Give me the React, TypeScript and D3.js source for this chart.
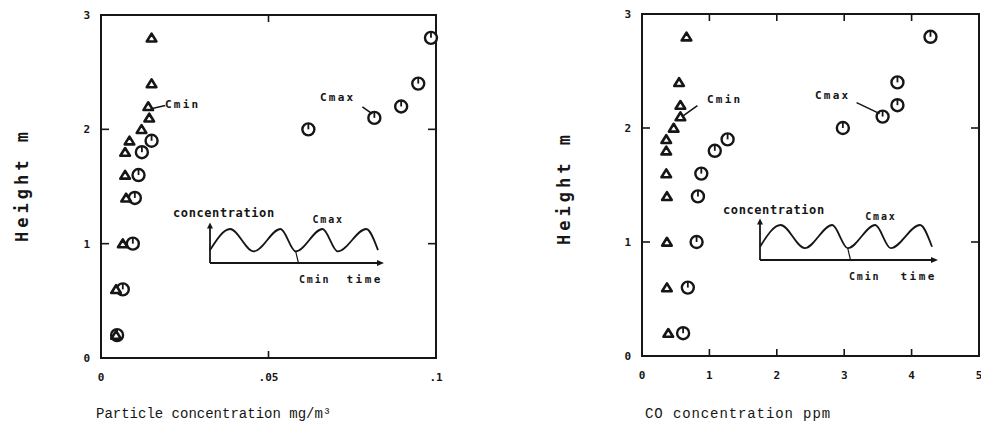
import React, { useEffect, useRef } from "react";
import * as d3 from "d3";

// heights (m) shared by both panels
const heights = [0.2, 0.6, 1.0, 1.4, 1.6, 1.8, 1.9, 2.0, 2.1, 2.2, 2.4, 2.8];
// particle concentration mg/m3
const particleCmin = [0.0045, 0.0045, 0.0065, 0.0075, 0.0072, 0.0072, 0.0085, 0.0121, 0.0144, 0.0141, 0.0151, 0.0151];
const particleCmax = [0.0048, 0.0065, 0.0095, 0.0101, 0.0112, 0.0122, 0.0151, 0.0619, 0.0816, 0.0896, 0.0947, 0.0985];
// CO concentration ppm
const coCmin = [0.39, 0.37, 0.37, 0.37, 0.36, 0.36, 0.36, 0.47, 0.57, 0.57, 0.55, 0.66];
const coCmax = [0.61, 0.68, 0.81, 0.83, 0.88, 1.08, 1.27, 2.98, 3.57, 3.79, 3.79, 4.28];

const heightTicks = [0, 1, 2, 3];
const particleTicks = [0, 0.05, 0.1];
const particleTickLabels = ["0", ".05", ".1"];
const coTicks = [0, 1, 2, 3, 4, 5];
const coTickLabels = ["0", "1", "2", "3", "4", "5"];

// schematic concentration vs time for the inset
const waveTime = [0, 1.2, 2.6, 4.2, 5.1, 6.7, 7.6, 9.3, 10];
const waveConc = [0.38, 1, 0.34, 1, 0.34, 1, 0.34, 1, 0.38];

const ink = "#161616";
const mono = "'DejaVu Sans Mono', monospace";

const panels = [
  {
    xMin: particleCmin, xMax: particleCmax, domain: [0, 0.1], ticks: particleTicks, labels: particleTickLabels,
    left: 101, right: 436, top: 15, bottom: 358,
    title: "Particle concentration mg/m\u00b3", titleX: 96, titleSpacing: 0,
    ylabX: 28, ylabY: 185,
    inset: { x: 210, y: 263, w: 168, h: 34 },
    cminAt: 9, cmaxAt: 8,
    cminText: [165, 108], cminLine: [[4, 2], [17, -1]],
    cmaxText: [320, 101], cmaxLine: [[-12, -11], [-2, -4]],
  },
  {
    xMin: coCmin, xMax: coCmax, domain: [0, 5], ticks: coTicks, labels: coTickLabels,
    left: 642, right: 979, top: 14, bottom: 356,
    title: "CO concentration ppm", titleX: 645, titleSpacing: 0.9,
    ylabX: 570, ylabY: 188,
    inset: { x: 760, y: 260, w: 172, h: 35 },
    cminAt: 8, cminText: [707, 103], cminLine: [[3, -1], [17, -11]],
    cmaxAt: 8, cmaxText: [815, 99], cmaxLine: [[-26, -14], [-3, -3]],
  },
];

const App = () => {
  const svgRef = useRef(null);

  useEffect(() => {
    const svg = d3.select(svgRef.current);
    svg.selectAll("*").remove();

    panels.forEach((p) => {
      const x = d3.scaleLinear().domain(p.domain).range([p.left, p.right]);
      const y = d3.scaleLinear().domain([0, 3]).range([p.bottom, p.top]);
      const g = svg.append("g");

      // frame
      g.append("rect")
        .attr("x", p.left).attr("y", p.top)
        .attr("width", p.right - p.left).attr("height", p.bottom - p.top)
        .attr("fill", "none").attr("stroke", ink).attr("stroke-width", 2);

      // inward ticks
      const innerX = p.ticks.slice(1, -1);
      const innerY = heightTicks.slice(1, -1);
      innerX.forEach((t) => {
        g.append("line").attr("x1", x(t)).attr("x2", x(t)).attr("y1", p.bottom).attr("y2", p.bottom - 7)
          .attr("stroke", ink).attr("stroke-width", 1.6);
        g.append("line").attr("x1", x(t)).attr("x2", x(t)).attr("y1", p.top).attr("y2", p.top + 7)
          .attr("stroke", ink).attr("stroke-width", 1.6);
      });
      innerY.forEach((t) => {
        g.append("line").attr("x1", p.left).attr("x2", p.left + 8).attr("y1", y(t)).attr("y2", y(t))
          .attr("stroke", ink).attr("stroke-width", 1.6);
        g.append("line").attr("x1", p.right).attr("x2", p.right - 8).attr("y1", y(t)).attr("y2", y(t))
          .attr("stroke", ink).attr("stroke-width", 1.6);
      });

      // tick labels
      g.selectAll(".xl").data(p.ticks).join("text")
        .attr("x", (d) => x(d)).attr("y", p.bottom + 23)
        .attr("text-anchor", "middle").attr("font-family", mono).attr("font-weight", "bold")
        .attr("font-size", 11).attr("fill", ink)
        .text((d, i) => p.labels[i]);
      g.selectAll(".yl").data(heightTicks).join("text")
        .attr("x", p.left - 11).attr("y", (d) => y(d) + 4)
        .attr("text-anchor", "end").attr("font-family", mono).attr("font-weight", "bold")
        .attr("font-size", 11).attr("fill", ink)
        .text((d) => d);

      // axis titles
      g.append("text").attr("x", p.titleX).attr("y", 418)
        .attr("font-family", "'Liberation Mono', monospace").attr("font-size", 14)
        .attr("letter-spacing", p.titleSpacing).attr("fill", ink)
        .text(p.title);
      g.append("text")
        .attr("transform", `translate(${p.ylabX},${p.ylabY}) rotate(-90)`)
        .attr("text-anchor", "middle").attr("font-family", mono).attr("font-weight", "bold")
        .attr("font-size", 17).attr("letter-spacing", 4).attr("fill", ink)
        .text("Height m");

      // Cmax circles
      const circ = g.selectAll(".cmax").data(heights).join("g")
        .attr("transform", (d, i) => `translate(${x(p.xMax[i])},${y(d)})`);
      circ.append("circle").attr("r", 6).attr("fill", "white").attr("stroke", ink).attr("stroke-width", 2.4);
      circ.append("line").attr("x1", 0).attr("x2", 0).attr("y1", -6).attr("y2", 0)
        .attr("stroke", ink).attr("stroke-width", 1.8);

      // Cmin triangles
      g.selectAll(".cmin").data(heights).join("path")
        .attr("transform", (d, i) => `translate(${x(p.xMin[i])},${y(d)})`)
        .attr("d", "M0,-4.2L4.8,3.6L-4.8,3.6Z")
        .attr("fill", "white").attr("stroke", ink).attr("stroke-width", 2.6)
        .attr("stroke-linejoin", "round");

      // labels with leader lines
      const ann = (txt, pos, anchor, seg) => {
        g.append("text").attr("x", pos[0]).attr("y", pos[1])
          .attr("font-family", mono).attr("font-weight", "bold").attr("font-size", 11)
          .attr("letter-spacing", 2.2).attr("fill", ink).text(txt);
        g.append("line")
          .attr("x1", anchor[0] + seg[0][0]).attr("y1", anchor[1] + seg[0][1])
          .attr("x2", anchor[0] + seg[1][0]).attr("y2", anchor[1] + seg[1][1])
          .attr("stroke", ink).attr("stroke-width", 1.6);
      };
      ann("Cmin", p.cminText, [x(p.xMin[p.cminAt]), y(heights[p.cminAt])], p.cminLine);
      ann("Cmax", p.cmaxText, [x(p.xMax[p.cmaxAt]), y(heights[p.cmaxAt])], p.cmaxLine);

      // inset: schematic concentration vs time
      const b = p.inset;
      const tx = d3.scaleLinear().domain([0, 10]).range([b.x, b.x + b.w]);
      const cy = d3.scaleLinear().domain([0, 1]).range([b.y, b.y - b.h]);
      const ins = g.append("g");
      ins.append("line").attr("x1", b.x).attr("x2", b.x).attr("y1", b.y).attr("y2", cy(1.1))
        .attr("stroke", ink).attr("stroke-width", 1.8);
      ins.append("line").attr("x1", b.x).attr("x2", b.x + b.w + 2).attr("y1", b.y).attr("y2", b.y)
        .attr("stroke", ink).attr("stroke-width", 1.8);
      ins.append("path")
        .attr("d", `M${b.x},${cy(1.1) - 3}l-3,6h6z`).attr("fill", ink);
      ins.append("path")
        .attr("d", `M${b.x + b.w + 6},${b.y}l-7,-3v6z`).attr("fill", ink);
      const wave = d3.line().curve(d3.curveMonotoneX)
        .x((d) => tx(d[0])).y((d) => cy(d[1]));
      ins.append("path")
        .datum(waveTime.map((t, i) => [t, waveConc[i]]))
        .attr("d", wave).attr("fill", "none").attr("stroke", ink).attr("stroke-width", 1.8);
      ins.append("line")
        .attr("x1", tx(waveTime[4])).attr("y1", cy(waveConc[4]))
        .attr("x2", tx(waveTime[4]) + 3).attr("y2", b.y + 1)
        .attr("stroke", ink).attr("stroke-width", 1.2);
      ins.append("text").attr("x", b.x - 37).attr("y", b.y - 46)
        .attr("font-family", mono).attr("font-weight", "bold").attr("font-size", 12)
        .attr("letter-spacing", 0.6).attr("fill", ink).text("concentration");
      ins.append("text").attr("x", tx(waveTime[5]) - 10).attr("y", b.y - 40)
        .attr("font-family", mono).attr("font-weight", "bold").attr("font-size", 10)
        .attr("letter-spacing", 1.8).attr("fill", ink).text("Cmax");
      ins.append("text").attr("x", b.x + 89).attr("y", b.y + 20)
        .attr("font-family", mono).attr("font-weight", "bold").attr("font-size", 10)
        .attr("letter-spacing", 1.8).attr("fill", ink).text("Cmin");
      ins.append("text").attr("x", b.x + b.w + 5).attr("y", b.y + 20)
        .attr("text-anchor", "end").attr("font-family", mono).attr("font-weight", "bold")
        .attr("font-size", 11).attr("letter-spacing", 2.5).attr("fill", ink).text("time");
    });
  }, []);

  return (
    <svg ref={svgRef} width={981} height={434}
      style={{ position: "absolute", left: 0, top: 0, background: "white" }} />
  );
};

export default App;
